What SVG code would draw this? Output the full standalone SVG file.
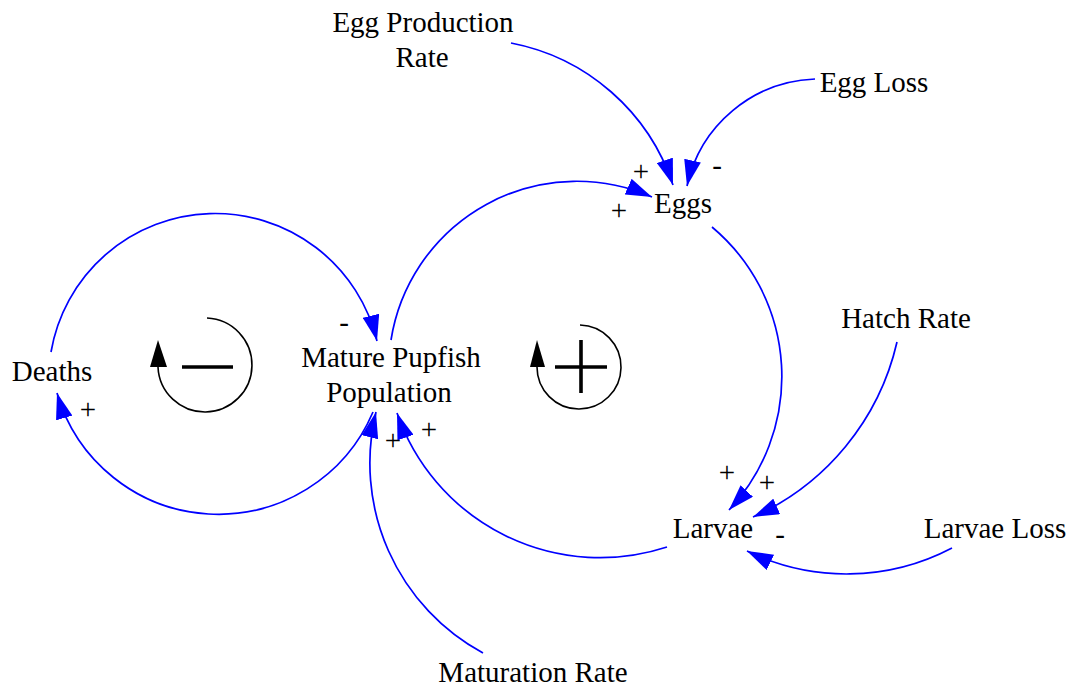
<svg xmlns="http://www.w3.org/2000/svg" width="1075" height="692" viewBox="0 0 1075 692">
<style>
text{font-family:"Liberation Serif","Times New Roman",serif;font-size:29px;fill:#000;text-anchor:middle}
.c{fill:none;stroke:#0000ff;stroke-width:1.7}
.loop{fill:none;stroke:#000;stroke-width:1.6}
.sign{stroke:#000;stroke-width:3.6;fill:none}
</style>
<defs>
<marker id="ah" markerUnits="userSpaceOnUse" markerWidth="27" markerHeight="17" viewBox="0 0 27 17" refX="26" refY="8.5" orient="auto">
<path d="M0,0 L26,8.5 L0,17 Z" fill="#0000ff"/>
</marker>
</defs>
<rect width="1075" height="692" fill="#fff"/>
<g id="connectors">
<path class="c" marker-end="url(#ah)" d="M511,43 A213,213 0 0 1 673,185"/>
<path class="c" marker-end="url(#ah)" d="M815,79 A136,136 0 0 0 687,186"/>
<path class="c" marker-end="url(#ah)" d="M391,340 A188,188 0 0 1 652,197"/>
<path class="c" marker-end="url(#ah)" d="M712,227 A195,195 0 0 1 729,510"/>
<path class="c" marker-end="url(#ah)" d="M897,342 A254,254 0 0 1 753,517"/>
<path class="c" marker-end="url(#ah)" d="M952,548 A227,227 0 0 1 747,551"/>
<path class="c" marker-end="url(#ah)" d="M667,547 A215,215 0 0 1 397,413"/>
<path class="c" marker-end="url(#ah)" d="M483,653 A216,216 0 0 1 376,412"/>
<path class="c" marker-end="url(#ah)" d="M373,412 A168,168 0 0 1 57,393"/>
<path class="c" marker-end="url(#ah)" d="M51,352 A166.5,166.5 0 0 1 377,341"/>
<text x="641" y="181">+</text>
<text x="619" y="220">+</text>
<text x="717" y="175">-</text>
<text x="727" y="482">+</text>
<text x="767" y="492">+</text>
<text x="780" y="544">-</text>
<text x="429" y="439">+</text>
<text x="393" y="450">+</text>
<text x="88" y="419">+</text>
<text x="344" y="332">-</text>
</g>
<g id="egg-production-rate"><text x="423" y="32">Egg Production<tspan x="422" y="67">Rate</tspan></text></g>
<g id="egg-loss"><text x="874" y="92">Egg Loss</text></g>
<g id="eggs"><text x="683" y="213">Eggs</text></g>
<g id="hatch-rate"><text x="906" y="328">Hatch Rate</text></g>
<g id="mature-pupfish-population"><text x="391" y="367">Mature Pupfish<tspan x="389" y="402">Population</tspan></text></g>
<g id="deaths"><text x="52" y="381">Deaths</text></g>
<g id="larvae"><text x="713" y="538">Larvae</text></g>
<g id="larvae-loss"><text x="995" y="538">Larvae Loss</text></g>
<g id="maturation-rate"><text x="533" y="682">Maturation Rate</text></g>
<g id="loop-negative">
<path class="loop" d="M207,318 A47,47 0 1 1 158,367"/>
<polygon points="158,340 150,367 167,367" fill="#000"/>
<line class="sign" x1="182" y1="367" x2="233" y2="367"/>
</g>
<g id="loop-positive">
<path class="loop" d="M580,325 A42,42 0 1 1 537,367"/>
<polygon points="537,340 530,367 545,367" fill="#000"/>
<line class="sign" x1="555" y1="367" x2="607" y2="367"/>
<line class="sign" x1="581" y1="340" x2="581" y2="393"/>
</g>
</svg>
